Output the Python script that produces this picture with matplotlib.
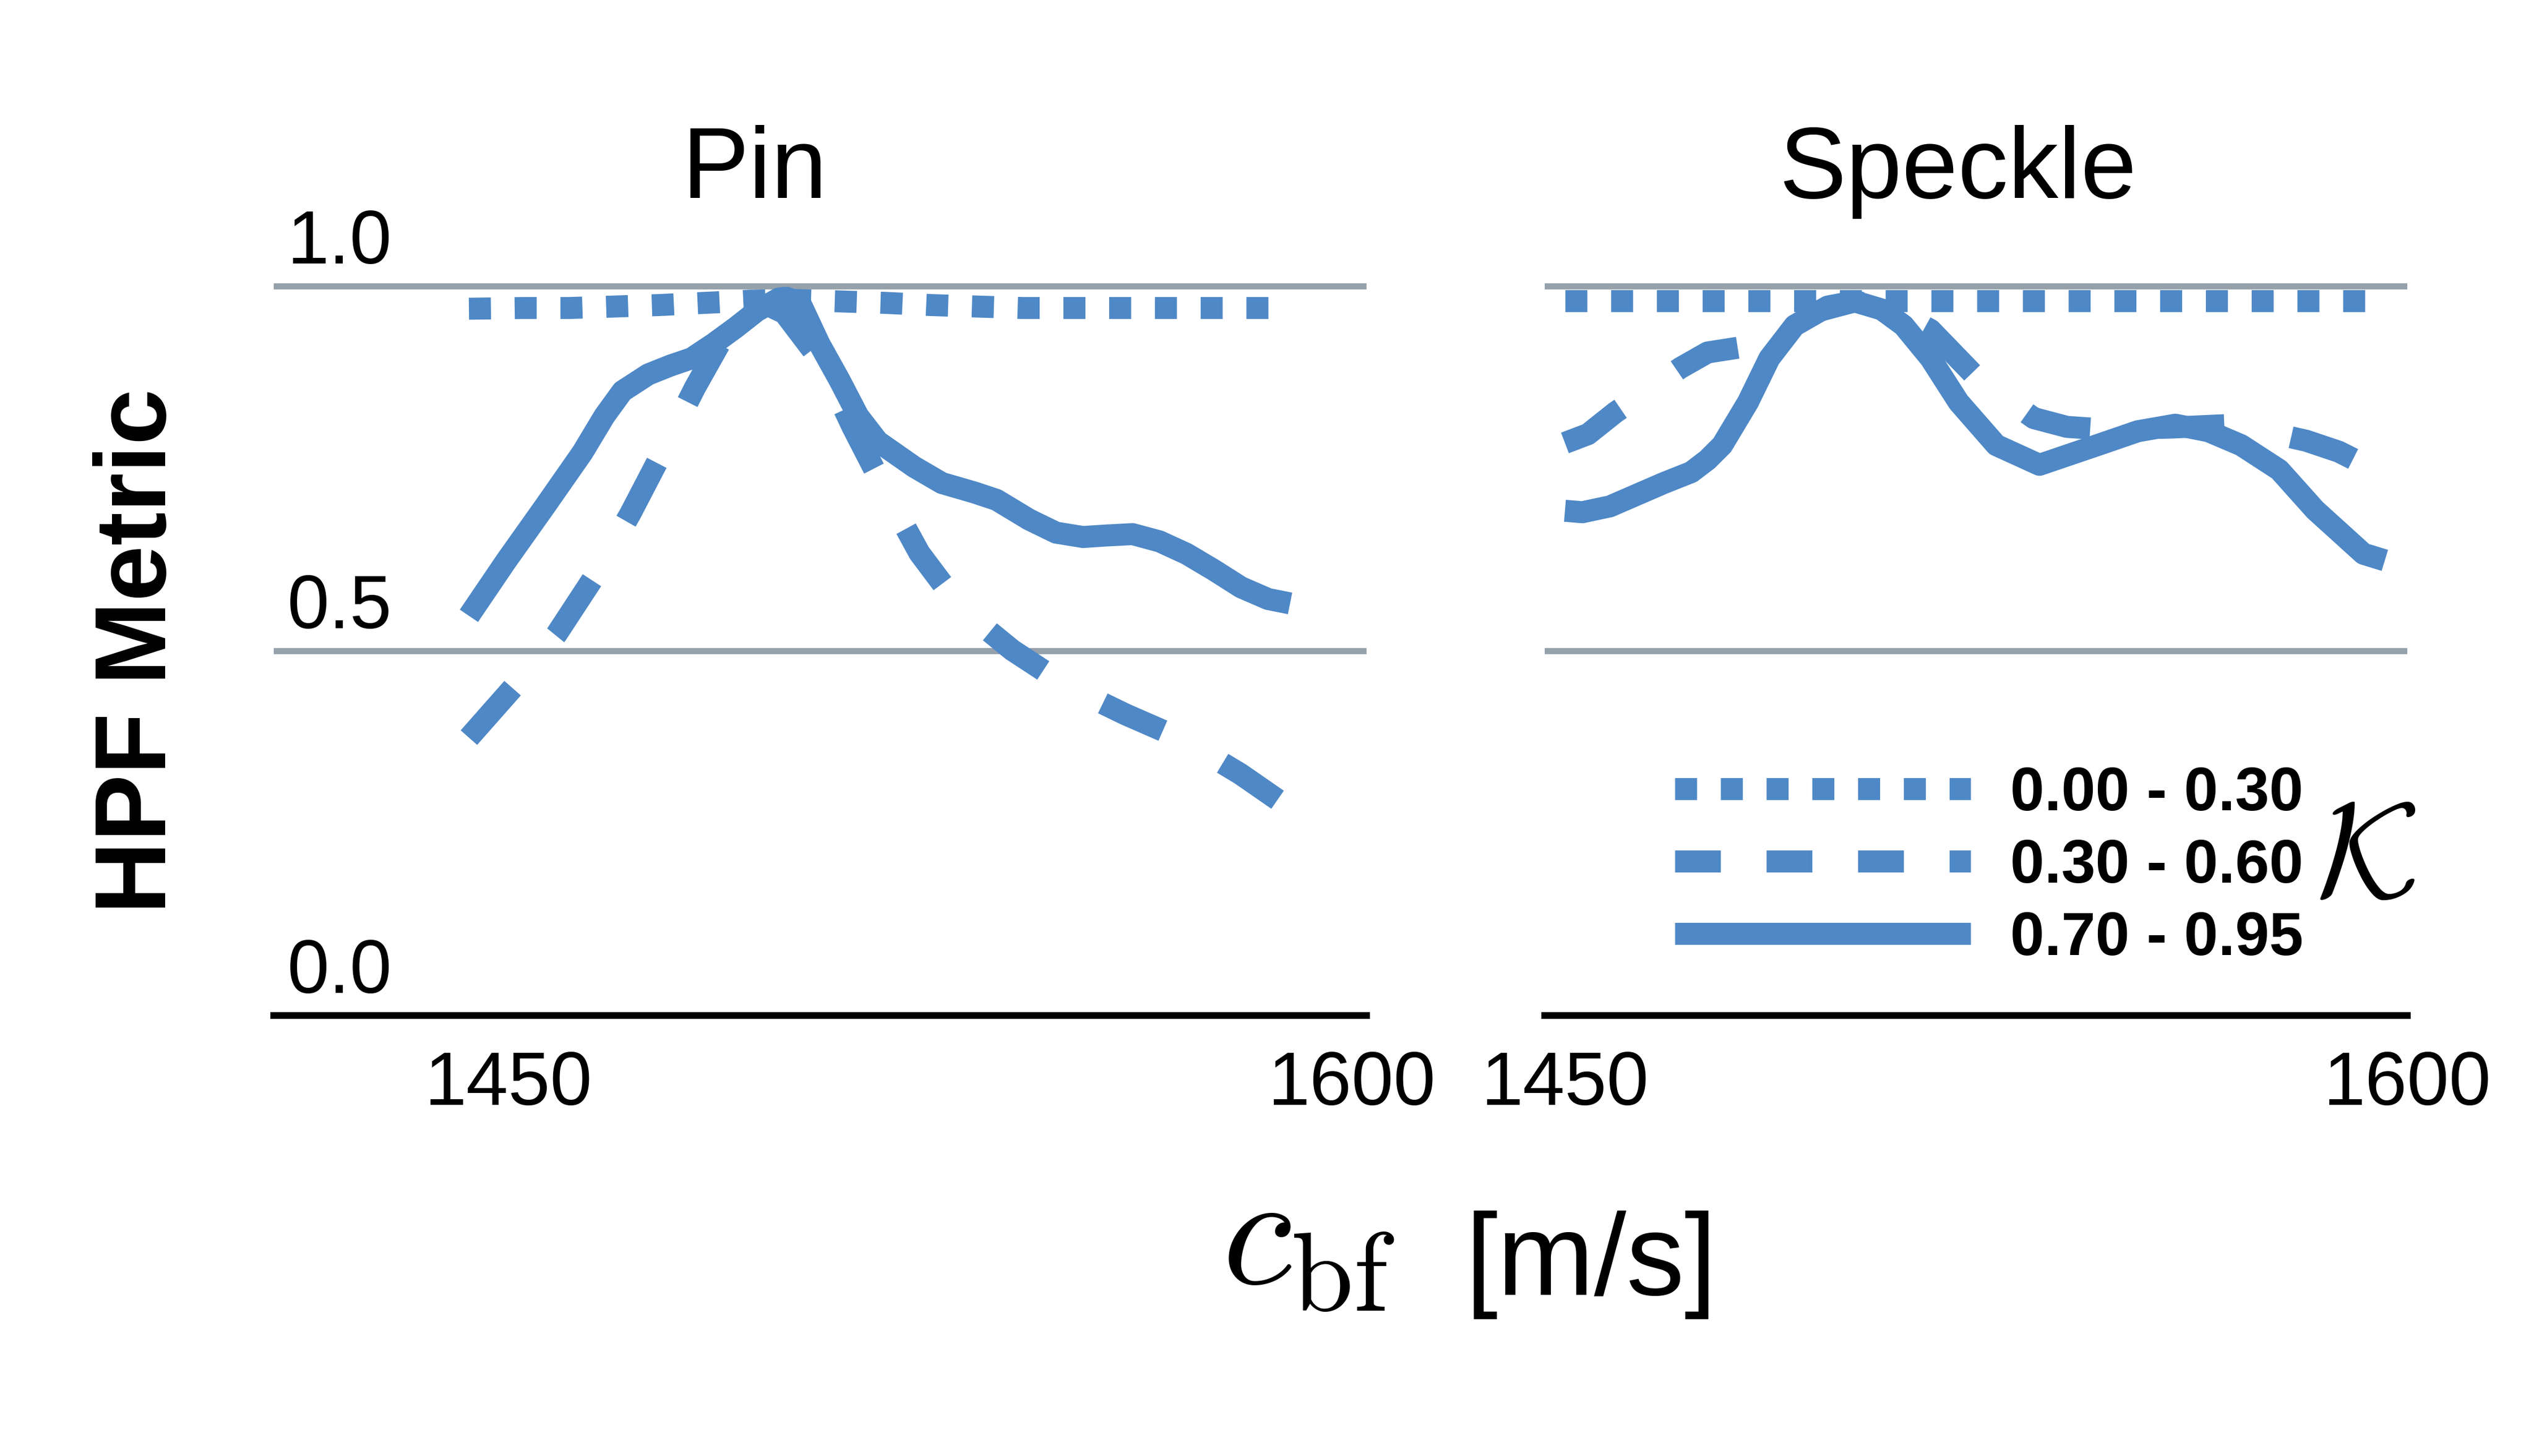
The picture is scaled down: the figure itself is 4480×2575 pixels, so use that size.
import matplotlib
matplotlib.use("Agg")
import matplotlib.pyplot as plt
from matplotlib.lines import Line2D
from matplotlib.transforms import ScaledTranslation
from matplotlib.font_manager import FontProperties

plt.rcParams['mathtext.fontset'] = 'cm'
plt.rcParams['font.family'] = ['Liberation Sans', 'DejaVu Sans']

# ---------------- data ----------------
panel_titles = ["Pin", "Speckle"]
legend_labels = ["0.00 - 0.30", "0.30 - 0.60", "0.70 - 0.95"]
x_ticks = [1450, 1600]
y_ticks = [0.0, 0.5, 1.0]
y_tick_labels = ["0.0", "0.5", "1.0"]

# Pin panel
pin_low_x = [1450.0, 1459.7, 1467.9, 1475.8, 1483.8, 1491.9, 1500.0, 1508.0, 1516.1, 1524.1,
             1532.2, 1540.3, 1548.4, 1556.3, 1572.8, 1596.0]
pin_low_y = [0.969, 0.970, 0.970, 0.972, 0.974, 0.977, 0.980, 0.981, 0.979, 0.977,
             0.974, 0.972, 0.970, 0.970, 0.970, 0.970]

pin_mid_x = [1450.0, 1457.9, 1465.6, 1472.4, 1478.7, 1484.5, 1490.2, 1496.4, 1501.5, 1506.1,
             1512.9, 1518.2, 1524.0, 1530.1, 1537.4, 1546.6, 1556.3, 1566.7, 1577.1, 1587.2, 1596.0]
pin_mid_y = [0.381, 0.450, 0.523, 0.603, 0.688, 0.774, 0.861, 0.946, 0.980, 0.963,
             0.894, 0.807, 0.720, 0.634, 0.559, 0.501, 0.452, 0.413, 0.378, 0.331, 0.284]

pin_high_x = [1450.0, 1456.6, 1463.5, 1470.2, 1474.1, 1477.3, 1481.9, 1485.8, 1489.6, 1493.5,
              1497.4, 1501.2, 1505.1, 1506.5, 1508.9, 1512.3, 1515.9, 1519.2, 1522.7, 1529.2,
              1534.1, 1539.9, 1543.8, 1549.6, 1554.4, 1559.2, 1563.1, 1568.0, 1572.8, 1577.6,
              1582.4, 1587.3, 1592.1, 1596.0]
pin_high_y = [0.548, 0.623, 0.698, 0.772, 0.822, 0.856, 0.879, 0.891, 0.901, 0.921,
              0.943, 0.966, 0.983, 0.984, 0.977, 0.921, 0.871, 0.822, 0.787, 0.752,
              0.730, 0.717, 0.707, 0.680, 0.662, 0.656, 0.658, 0.660, 0.650, 0.633,
              0.611, 0.587, 0.571, 0.565]

# Speckle panel
spk_low_x = [1450.0, 1486.0, 1523.0, 1559.0, 1596.0]
spk_low_y = [0.980, 0.980, 0.980, 0.980, 0.980]

spk_mid_x = [1450.0, 1454.1, 1459.0, 1470.6, 1475.4, 1481.2, 1492.8, 1501.6, 1508.5, 1515.1,
             1523.4, 1533.5, 1539.4, 1545.1, 1557.8, 1569.4, 1582.0, 1587.8, 1592.7, 1596.0]
spk_mid_y = [0.785, 0.797, 0.827, 0.888, 0.909, 0.916, 0.961, 0.979, 0.968, 0.940,
             0.874, 0.819, 0.807, 0.804, 0.806, 0.810, 0.788, 0.773, 0.754, 0.743]

spk_high_x = [1450.0, 1453.1, 1458.0, 1462.8, 1467.6, 1472.5, 1475.4, 1478.0, 1482.6, 1486.4,
              1490.9, 1496.8, 1501.6, 1506.4, 1510.3, 1515.1, 1520.1, 1526.8, 1534.5, 1545.2,
              1552.0, 1558.7, 1564.6, 1570.4, 1577.2, 1583.6, 1592.2, 1596.0]
spk_high_y = [0.692, 0.690, 0.698, 0.714, 0.730, 0.745, 0.762, 0.782, 0.841, 0.901,
              0.946, 0.972, 0.979, 0.968, 0.946, 0.901, 0.841, 0.782, 0.755, 0.783,
              0.801, 0.810, 0.801, 0.782, 0.748, 0.693, 0.633, 0.624]

# ---------------- style ----------------
LINE_C = '#4f88c6'
GRID_C = '#95a1ab'
LW = 14
DOT = (1.0, 1.08)
DASH = (3.0, 3.1)
LEG_DASH = (2.08, 2.08)

W, H = 4480, 2575
fig = plt.figure(figsize=(W / 200, H / 200), dpi=200)

y0_px, y1_px = 1796, 506
top_px = y1_px - 0.05 * (y0_px - y1_px)
ax_bottom = 1 - y0_px / H
ax_height = (y0_px - top_px) / H

axL = fig.add_axes([484 / W, ax_bottom, (2416 - 484) / W, ax_height])
axR = fig.add_axes([2731 / W, ax_bottom, (4256 - 2731) / W, ax_height])


def style_axis(ax, xlim, show_ylabels):
    ax.set_xlim(*xlim)
    ax.set_ylim(0, 1.05)
    ax.set_xticks(x_ticks)
    ax.set_xticklabels([str(t) for t in x_ticks], fontsize=48)
    ax.set_yticks(y_ticks)
    ax.set_yticklabels(y_tick_labels, fontsize=48)
    ax.tick_params(axis='both', length=0)
    ax.tick_params(axis='x', pad=22)
    ax.tick_params(axis='y', pad=0)
    for s in ['top', 'left', 'right']:
        ax.spines[s].set_visible(False)
    ax.spines['bottom'].set_linewidth(4.3)
    ax.spines['bottom'].set_color('black')
    ax.spines['bottom'].set_zorder(5)
    ax.yaxis.grid(True, color=GRID_C, linewidth=3.9)
    ax.set_axisbelow(True)
    if show_ylabels:
        for lbl in ax.get_yticklabels():
            lbl.set_horizontalalignment('left')
            lbl.set_verticalalignment('baseline')
            lbl.set_transform(lbl.get_transform() + ScaledTranslation(0.12, 0.2, fig.dpi_scale_trans))
    else:
        ax.tick_params(axis='y', labelleft=False)


def draw(ax, xl, yl, xm, ym, xh, yh):
    ax.plot(xl, yl, color=LINE_C, lw=LW, dashes=DOT, dash_capstyle='butt', clip_on=False, zorder=3)
    ax.plot(xm, ym, color=LINE_C, lw=LW, dashes=DASH, dash_capstyle='butt',
            dash_joinstyle='round', clip_on=False, zorder=3)
    ax.plot(xh, yh, color=LINE_C, lw=LW, solid_capstyle='butt', solid_joinstyle='round',
            clip_on=False, zorder=3)


style_axis(axL, (1415.3, 1609.6), True)
style_axis(axR, (1446.4, 1600.0), False)

for lbl in axL.get_xticklabels():
    lbl.set_transform(lbl.get_transform() + ScaledTranslation(0.35, 0, fig.dpi_scale_trans))

draw(axL, pin_low_x, pin_low_y, pin_mid_x, pin_mid_y, pin_high_x, pin_high_y)
draw(axR, spk_low_x, spk_low_y, spk_mid_x, spk_mid_y, spk_high_x, spk_high_y)

title_pad = (top_px - 350) / 200 * 72
axL.set_title(panel_titles[0], fontsize=64, x=(1334 - 484) / (2416 - 484), y=1.0, pad=title_pad)
axR.set_title(panel_titles[1], fontsize=64, x=(3462 - 2731) / (4256 - 2731), y=1.0, pad=title_pad)

# y label
fig.text(330 / W, 1 - 1152 / H, 'HPF Metric', rotation=90, ha='right', va='center',
         fontsize=64, fontweight='bold')

# x label (math part + unit)
fig.text(2160 / W, 1 - 2271 / H, r'$c_{\mathrm{bf}}$', fontsize=102, ha='left', va='baseline')
fig.text(2590 / W, 1 - 2290 / H, '[m/s]', fontsize=74, ha='left', va='baseline')

# legend
handles = [
    Line2D([], [], color=LINE_C, lw=LW, dashes=DOT, dash_capstyle='butt'),
    Line2D([], [], color=LINE_C, lw=LW, dashes=LEG_DASH, dash_capstyle='butt'),
    Line2D([], [], color=LINE_C, lw=LW, solid_capstyle='butt'),
]
leg_prop = FontProperties(family=['Liberation Sans Narrow', 'Liberation Sans'], weight='bold', size=39)
axR.legend(handles, legend_labels, prop=leg_prop, frameon=False, loc='center left',
           bbox_to_anchor=(2961 / W, 1 - 1533 / H), bbox_transform=fig.transFigure,
           borderpad=0, borderaxespad=0, handlelength=4.83, handletextpad=0.64,
           labelspacing=0.26, handleheight=0.7)

fig.text(4183 / W, 1 - 1525 / H, r'$\mathcal{K}$', fontsize=86, ha='center', va='center')

fig.savefig('out.png', dpi=200)
